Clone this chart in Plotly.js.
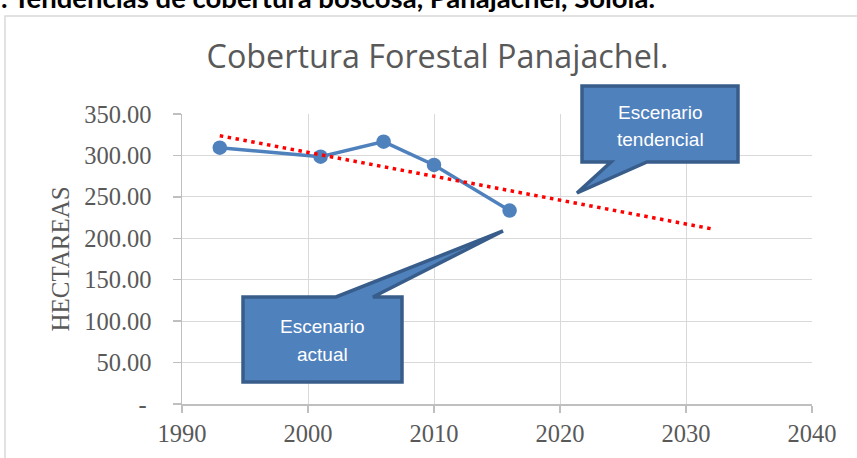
<!DOCTYPE html>
<html>
<head>
<meta charset="utf-8">
<script src="https://cdn.plot.ly/plotly-3.0.1.min.js"></script>
<style>
  html, body { margin: 0; padding: 0; background: #ffffff; }
  #chart { width: 857px; height: 458px; }
</style>
</head>
<body>
<div id="chart"></div>
<script>
// ---- Data ----
const years = [1993, 2001, 2006, 2010, 2016];
const hectares = [309.4, 298.5, 316.6, 288.5, 233.4];
const trendYears = [1993, 2032];
const trendHectares = [323.8, 211.5];
const yTickValues = [0, 50, 100, 150, 200, 250, 300, 350];
const yTickLabels = ['-\u2009', '50.00', '100.00', '150.00', '200.00', '250.00', '300.00', '350.00'];
const xTickValues = [1990, 2000, 2010, 2020, 2030, 2040];

const chartTitle = 'Cobertura Forestal Panajachel.';
const yTitle = 'HECTAREAS';
const caption = '. Tendencias de cobertura boscosa, Panajachel, Sololá.';
const calloutActual = ['Escenario', 'actual'];
const calloutTrend = ['Escenario', 'tendencial'];

// ---- Layout geometry (pixels) ----
const W = 857, H = 458;
const M = { l: 182, r: 45, t: 114, b: 54 };
const PW = W - M.l - M.r, PH = H - M.t - M.b;
const px = x => (x - M.l) / PW;          // pixel x -> paper x
const py = y => (H - M.b - y) / PH;      // pixel y -> paper y
function pathFrom(points) {
  return 'M ' + points.map(p => px(p[0]).toFixed(5) + ',' + py(p[1]).toFixed(5)).join(' L ') + ' Z';
}

const callFill = '#4F81BD', callLine = '#385D8A';
const actualPath = pathFrom([[243, 297], [336, 297], [503, 231], [373, 297], [402, 297], [402, 382], [243, 382]]);
const trendPath = pathFrom([[582, 86], [738, 86], [738, 162], [647, 162], [577, 193], [611, 162], [582, 162]]);

const grey = '#595959';
const serif = '"Liberation Serif", "Times New Roman", serif';
const calloutFont = { family: '"Liberation Sans", Arial, sans-serif', size: 19, color: '#ffffff' };

function calloutLabel(text, cx, cy) {
  return { text: text, xref: 'paper', yref: 'paper', x: px(cx), y: py(cy),
    xanchor: 'center', yanchor: 'middle', showarrow: false, font: calloutFont };
}

const traces = [
  {
    x: years, y: hectares, type: 'scatter', mode: 'lines+markers',
    line: { color: '#4F81BD', width: 3.5 },
    marker: { color: '#4F81BD', size: 14.5 },
    hoverinfo: 'x+y', showlegend: false
  },
  {
    x: trendYears, y: trendHectares, type: 'scatter', mode: 'lines',
    line: { color: '#FF0000', width: 3.5, dash: '3.5px,4.5px' },
    hoverinfo: 'skip', showlegend: false
  }
];

const layout = {
  width: W, height: H,
  margin: M,
  paper_bgcolor: '#ffffff', plot_bgcolor: '#ffffff',
  showlegend: false,
  title: {
    text: chartTitle,
    font: { family: '"Open Sans", "Noto Sans", sans-serif', size: 32.3, color: grey },
    x: 437.5 / W, xref: 'container', xanchor: 'center',
    y: 1 - 57 / H, yref: 'container', yanchor: 'middle'
  },
  xaxis: {
    range: [1990, 2040],
    tickvals: xTickValues,
    ticktext: xTickValues.map(String),
    showgrid: true, gridcolor: '#D9D9D9', gridwidth: 1,
    showline: true, linecolor: '#BFBFBF', linewidth: 1.5,
    ticks: 'outside', ticklen: 7, tickcolor: '#BFBFBF', tickwidth: 1.5,
    tickfont: { family: serif, size: 24.5, color: grey },
    zeroline: false, fixedrange: true
  },
  yaxis: {
    range: [0, 350],
    tickvals: yTickValues,
    ticktext: yTickLabels,
    showgrid: true, gridcolor: '#D9D9D9', gridwidth: 1,
    showline: true, linecolor: '#BFBFBF', linewidth: 1.5,
    ticks: 'outside', ticklen: 8, tickcolor: '#BFBFBF', tickwidth: 1.5,
    tickfont: { family: serif, size: 24.5, color: grey },
    ticklabelstandoff: 16,
    title: { text: yTitle, font: { family: serif, size: 25, color: grey }, standoff: 7 },
    zeroline: false, fixedrange: true
  },
  shapes: [
    { type: 'rect', xref: 'paper', yref: 'paper', x0: px(5), x1: px(W + 40), y0: py(16), y1: py(H + 40),
      line: { color: '#D9D9D9', width: 1.5 }, fillcolor: 'rgba(0,0,0,0)', layer: 'below' },
    { type: 'path', xref: 'paper', yref: 'paper', path: actualPath,
      fillcolor: callFill, line: { color: callLine, width: 3.5 }, layer: 'above' },
    { type: 'path', xref: 'paper', yref: 'paper', path: trendPath,
      fillcolor: callFill, line: { color: callLine, width: 3.5 }, layer: 'above' }
  ],
  annotations: [
    calloutLabel(calloutActual[0], 322.5, 326.5),
    calloutLabel(calloutActual[1], 322.5, 354.5),
    calloutLabel(calloutTrend[0], 660, 112),
    calloutLabel(calloutTrend[1], 660, 139.5),
    { text: '<b>' + caption + '</b>', xref: 'paper', yref: 'paper', x: px(-1), y: py(-2.5),
      xanchor: 'left', yanchor: 'middle', showarrow: false,
      font: { family: 'Lato, "Open Sans", sans-serif', size: 27.5, color: '#000000' } }
  ]
};

Plotly.newPlot('chart', traces, layout, { displayModeBar: false, staticPlot: true });
</script>
</body>
</html>
